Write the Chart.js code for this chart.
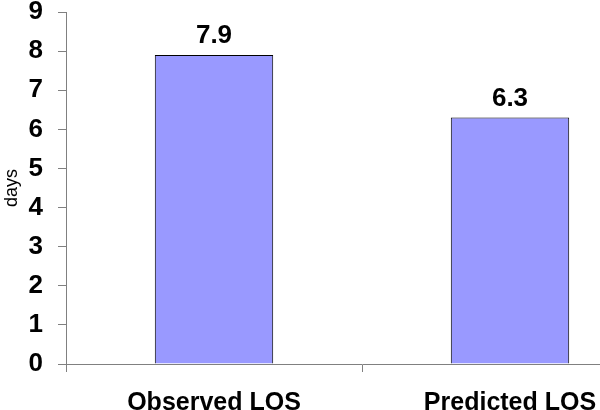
<!DOCTYPE html>
<html><head><meta charset="utf-8">
<script src="https://cdn.jsdelivr.net/npm/chart.js@4"></script>
<style>html,body{margin:0;padding:0;overflow:hidden;background:#fff;width:600px;height:410px}#wrap{width:660px;height:410px;position:relative}</style>
</head><body><div id="wrap"><canvas id="c" width="660" height="410"></canvas></div>
<script>
const categories = ["Observed LOS", "Predicted LOS"];
const values = [7.9, 6.3];
const valueLabels = ["7.9", "6.3"];
const yTicks = [0,1,2,3,4,5,6,7,8,9];

const FONT = "'Liberation Sans', Arial, sans-serif";
const labelPlugin = {
  id: 'vlabels',
  afterDatasetsDraw(chart) {
    const ctx = chart.ctx;
    const meta = chart.getDatasetMeta(0);
    ctx.save();
    ctx.font = "bold 26px " + FONT;
    ctx.fillStyle = "#000";
    ctx.textAlign = "center";
    ctx.textBaseline = "alphabetic";
    meta.data.forEach((el, i) => {
      ctx.fillText(valueLabels[i], el.x, el.y - 12);
    });
    ctx.restore();
  }
};

new Chart(document.getElementById('c'), {
  type: 'bar',
  data: {
    labels: categories,
    datasets: [{
      data: values,
      backgroundColor: '#9999FF',
      borderColor: '#000000',
      borderWidth: 1,
      barPercentage: 0.4,
      categoryPercentage: 1.0
    }]
  },
  options: {
    responsive: false,
    animation: false,
    devicePixelRatio: 1,
    layout: { padding: { top: 12, right: 2, left: 0, bottom: 0 } },
    plugins: { legend: { display: false }, tooltip: { enabled: false } },
    scales: {
      x: {
        offset: true,
        grid: { offset: true, drawOnChartArea: false, tickLength: 8, color: '#808080' },
        border: { color: '#808080', width: 1 },
        ticks: { color: '#000', font: { family: FONT, size: 25, weight: 'bold' }, padding: 16, maxRotation: 0 },
        afterFit(s) { s.height = 46; s.paddingLeft = 0; s.paddingRight = 0; }
      },
      y: {
        min: 0, max: 9,
        afterBuildTicks(s) { s.ticks = yTicks.map(v => ({ value: v })); },
        grid: { drawOnChartArea: false, tickLength: 8, color: '#808080' },
        border: { color: '#808080', width: 1 },
        ticks: { color: '#000', font: { family: FONT, size: 26, weight: 'bold' }, padding: 15 },
        title: { display: true, text: 'days', color: '#000', font: { family: FONT, size: 18 }, padding: 1 },
        afterFit(s) { s.width = 66; s.paddingTop = 0; s.paddingBottom = 0; }
      }
    }
  },
  plugins: [labelPlugin]
});
</script></body></html>
